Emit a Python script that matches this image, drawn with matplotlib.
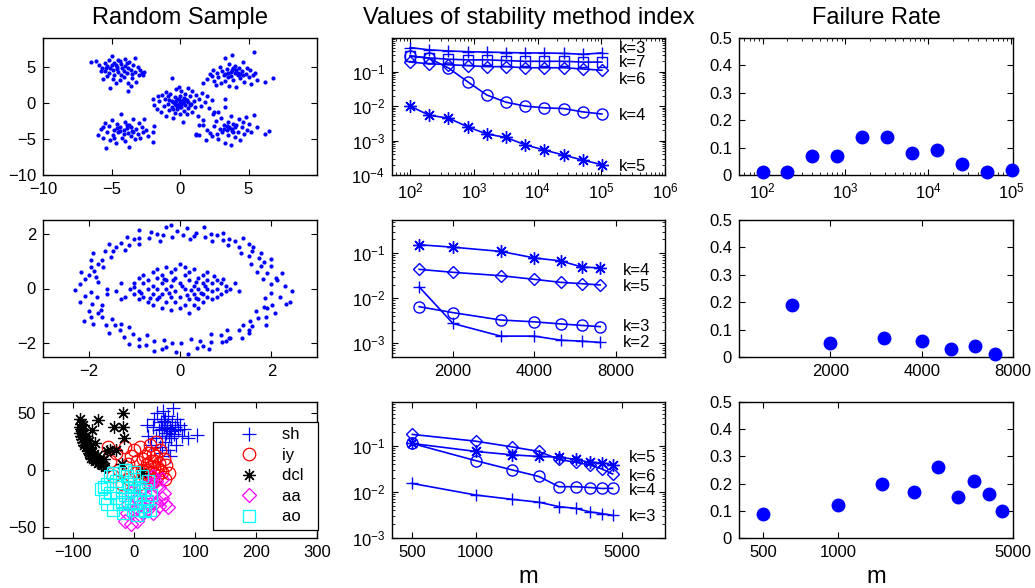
import numpy as np
import matplotlib
matplotlib.use('Agg')
import matplotlib.pyplot as plt
from matplotlib.ticker import FixedLocator, FixedFormatter, NullLocator

plt.rcParams['font.family'] = ['Liberation Sans', 'DejaVu Sans']
plt.rcParams['mathtext.fontset'] = 'custom'
plt.rcParams['mathtext.rm'] = 'Liberation Sans'
plt.rcParams['mathtext.default'] = 'regular'

# --- dados: coluna 1, amostras ---
blobs_pts = [
    # cluster superior esquerdo
    (-6.5, 5.7), (-6.1, 5.8), (-5.9, 5.2), (-5.8, 4.4), (-5.6, 3.3), (-5.5, 5.6), (-5.4, 4.9), (-5.3, 3.7),
    (-5.2, 5.9), (-5.2, 4.2), (-5.1, 2.1), (-5.0, 5.3), (-5.0, 6.5), (-4.9, 4.6), (-4.8, 5.5), (-4.8, 3.9),
    (-4.7, 2.8), (-4.6, 5.0), (-4.5, 6.0), (-4.5, 4.3), (-4.4, 3.2), (-4.3, 5.4), (-4.2, 4.8), (-4.1, 3.6),
    (-4.0, 6.1), (-4.0, 5.1), (-3.9, 4.1), (-3.8, 1.6), (-3.8, 2.7), (-3.7, 5.7), (-3.6, 4.6), (-3.5, 3.5),
    (-3.4, 5.2), (-3.3, 6.2), (-3.3, 4.3), (-3.2, 2.9), (-3.1, 5.0), (-3.0, 3.9), (-2.9, 4.5), (-2.8, 4.1),
    (-2.7, 3.8), (-2.6, 4.3), (-4.6, 4.7), (-5.3, 5.1), (-4.1, 4.4), (-3.6, 2.3), (-5.7, 4.9), (-4.9, 3.3),
    (-3.9, 5.6), (-4.4, 5.8), (-5.1, 4.8), (-4.7, 5.3), (-3.8, 4.9), (-4.3, 3.9), (-5.5, 4.4), (-3.5, 4.0),
    # cluster superior direito
    (1.7, 2.7), (2.0, 3.3), (2.2, 4.0), (2.4, 4.6), (2.5, 3.0), (2.6, 2.5), (2.7, 4.2), (2.8, 3.6),
    (2.9, 5.0), (3.0, 2.8), (3.1, 4.4), (3.2, 3.9), (3.3, 6.2), (3.3, 3.1), (3.4, 4.7), (3.5, 4.1),
    (3.6, 2.4), (3.6, 5.4), (3.7, 3.7), (3.8, 4.5), (3.8, 6.7), (3.9, 3.2), (4.0, 4.2), (4.0, 5.1),
    (4.1, 2.2), (4.2, 3.8), (4.3, 4.9), (4.4, 3.4), (4.5, 4.4), (4.6, 5.7), (4.7, 2.9), (4.8, 4.0),
    (4.9, 4.8), (5.0, 3.6), (5.1, 4.5), (5.2, 2.6), (5.3, 3.9), (5.4, 7.1), (5.5, 4.1), (5.6, 3.2),
    (6.2, 2.9), (6.8, 3.5), (4.2, 4.1), (3.5, 3.6), (4.6, 3.9), (3.9, 4.8), (2.3, 3.7), (3.7, 4.3),
    (4.1, 4.6), (3.3, 4.0), (4.4, 4.0),
    # cluster central
    (-2.0, 0.5), (-1.9, -0.3), (-1.7, -0.8), (-1.6, 0.9), (-1.5, 0.2), (-1.4, -1.2), (-1.3, 1.1), (-1.2, -0.4),
    (-1.1, 0.6), (-1.0, -1.8), (-1.0, 1.5), (-0.9, -0.2), (-0.8, 0.4), (-0.8, -1.0), (-0.7, 1.3), (-0.6, -0.6),
    (-0.6, 3.5), (-0.5, 0.1), (-0.5, -2.1), (-0.4, 0.8), (-0.4, -1.4), (-0.3, 1.9), (-0.3, -0.3), (-0.2, 0.5),
    (-0.2, -0.8), (-0.1, 2.2), (-0.1, -0.1), (0.0, 1.0), (0.0, -1.6), (0.0, 0.3), (0.1, -0.5), (0.1, 1.6),
    (0.2, 0.0), (0.2, -2.7), (0.3, 0.7), (0.3, -1.1), (0.4, 1.3), (0.4, -0.3), (0.5, 0.4), (0.5, -1.5),
    (0.6, 2.0), (0.6, -0.7), (0.7, 0.9), (0.8, -0.2), (0.9, 1.6), (0.9, -1.2), (1.0, 0.3), (1.1, -0.6),
    (1.2, 1.1), (1.3, -1.8), (1.4, 0.5), (1.5, -0.4), (1.6, 1.4), (1.7, -2.4), (1.8, 0.1), (2.0, 1.0),
    (2.1, -0.7), (2.3, 0.4), (2.5, -1.3), (3.3, 0.6), (2.8, -1.2), (-0.3, 0.2), (0.3, 0.1), (-0.1, 0.6),
    (0.1, -0.2), (1.4, -3.0), (2.2, -4.2), (1.2, -4.3), (-0.9, 0.9), (0.7, -0.3), (-0.5, -0.9), (0.2, 0.4),
    (-0.2, -0.4), (0.4, 0.5), (-0.6, 0.3), (0.0, -0.6), (0.6, 0.1), (-0.4, -0.1),
    # cluster inferior esquerdo
    (-6.0, -4.5), (-5.8, -3.6), (-5.6, -4.9), (-5.5, -2.8), (-5.4, -6.3), (-5.3, -4.0), (-5.2, -3.2), (-5.1, -5.2),
    (-5.0, -2.4), (-4.9, -4.4), (-4.8, -3.7), (-4.7, -5.6), (-4.6, -2.9), (-4.5, -4.1), (-4.4, -3.3), (-4.3, -1.5),
    (-4.2, -4.8), (-4.1, -3.8), (-4.0, -2.6), (-4.0, -5.3), (-3.9, -3.5), (-3.8, -4.2), (-3.7, -3.0), (-3.7, -6.1),
    (-3.6, -4.6), (-3.5, -3.9), (-3.4, -2.2), (-3.3, -5.0), (-3.2, -3.6), (-3.1, -4.3), (-3.0, -2.8), (-2.9, -4.9),
    (-2.8, -3.4), (-2.7, -4.0), (-2.6, -2.2), (-2.5, -3.7), (-2.3, -4.6), (-2.0, -4.1), (-2.0, -5.4), (-1.9, -3.2),
    (-4.4, -3.9), (-3.9, -3.1), (-3.4, -4.1), (-4.8, -4.8), (-5.6, -3.4), (-4.1, -4.3), (-3.6, -3.4),
    (-4.6, -3.5),
    # cluster inferior direito
    (1.2, -4.5), (1.4, -4.4), (1.7, -3.0), (1.9, -5.1), (2.0, -3.7), (2.3, -4.6), (2.4, -1.6), (2.5, -3.2),
    (2.6, -2.5), (2.7, -4.3), (2.8, -5.0), (2.9, -3.6), (3.0, -2.1), (3.1, -4.1), (3.2, -3.0), (3.3, -0.5),
    (3.3, -5.5), (3.4, -3.8), (3.5, -2.6), (3.5, -4.4), (3.6, -3.3), (3.7, -1.8), (3.7, -5.8), (3.8, -3.6),
    (3.9, -2.9), (4.0, -4.7), (4.1, -3.1), (4.2, -4.0), (4.3, -2.3), (4.4, -5.2), (4.5, -3.4), (4.6, -2.7),
    (4.7, -4.3), (4.8, -1.9), (4.9, -3.8), (5.0, -2.9), (5.2, -4.0), (5.4, -1.7), (5.6, -3.3), (6.2, -4.3),
    (6.5, -3.9), (3.6, -3.5), (3.2, -3.6), (4.0, -3.3), (3.9, -4.0), (3.4, -3.2), (3.8, -3.9),
]

ring_pts = [
    (2.30, 0.08), (1.99, 0.17), (2.13, 0.30), (1.82, 0.35), (2.23, 0.56), (1.91, 0.58), (1.69, 0.62), (1.99, 0.81),
    (1.77, 0.82), (1.99, 1.06), (1.56, 0.90), (1.72, 1.12), (1.78, 1.29), (1.50, 1.17), (1.58, 1.38), (1.33, 1.29),
    (1.50, 1.61), (1.29, 1.53), (1.38, 1.84), (1.06, 1.58), (1.08, 1.80), (0.94, 1.77), (0.95, 2.04), (0.69, 1.72),
    (0.68, 1.99), (0.54, 1.87), (0.52, 2.24), (0.36, 2.02), (0.22, 1.79), (0.15, 2.19), (0.07, 1.95),
    (1.85, 0.95), (1.60, 1.50), (1.20, 1.75), (0.30, 1.90), (2.10, 0.40), (0.80, 1.95),
    (-0.07, 2.10), (-0.17, 1.89), (-0.31, 2.23), (-0.38, 1.96), (-0.44, 1.75), (-0.63, 2.06), (-0.67, 1.83),
    (-0.90, 2.12), (-0.90, 1.84), (-0.90, 1.62), (-1.17, 1.87), (-1.12, 1.60), (-1.29, 1.65), (-1.21, 1.40),
    (-1.56, 1.62), (-1.46, 1.36), (-1.65, 1.38), (-1.52, 1.14), (-1.91, 1.29), (-1.71, 1.03), (-1.94, 1.03),
    (-1.68, 0.78), (-1.95, 0.79), (-1.89, 0.65), (-2.16, 0.62), (-1.85, 0.43), (-2.07, 0.36), (-1.79, 0.22),
    (-2.19, 0.15), (-1.40, 1.50), (-0.50, 2.00), (-1.80, 0.90), (-1.00, 1.80), (-2.00, 0.50), (-0.20, 2.30),
    (-2.30, -0.04), (-1.95, -0.14), (-2.08, -0.26), (-1.82, -0.32), (-2.19, -0.51), (-1.92, -0.55), (-1.70, -0.59),
    (-1.99, -0.81), (-1.72, -0.80), (-1.94, -1.03), (-1.71, -1.03), (-1.91, -1.29), (-1.48, -1.11), (-1.61, -1.35),
    (-1.43, -1.33), (-1.56, -1.62), (-1.31, -1.51), (-1.11, -1.42), (-1.23, -1.76), (-1.03, -1.65), (-1.12, -2.01),
    (-0.90, -1.84), (-0.72, -1.70), (-0.75, -2.07), (-0.58, -1.91), (-0.57, -2.28), (-0.36, -1.87), (-0.30, -2.13),
    (-0.17, -1.99), (-0.08, -2.30), (-1.80, -0.90), (-1.30, -1.30), (-0.40, -2.20), (-1.60, -0.20), (-0.90, -2.10),
    (-2.10, -1.20),
    (0.03, -2.00), (0.17, -2.39), (0.23, -1.84), (0.38, -2.17), (0.44, -1.90), (0.63, -2.21), (0.67, -1.94),
    (0.67, -1.67), (0.91, -1.95), (0.89, -1.68), (1.08, -1.80), (1.03, -1.53), (1.35, -1.80), (1.29, -1.53),
    (1.50, -1.61), (1.37, -1.32), (1.58, -1.38), (1.54, -1.20), (1.88, -1.32), (1.70, -1.06), (1.88, -1.04),
    (1.66, -0.81), (2.07, -0.88), (1.83, -0.67), (2.01, -0.61), (2.33, -0.58), (1.87, -0.36), (2.18, -0.31),
    (1.99, -0.17), (2.45, -0.09), (1.00, -1.90), (1.10, -1.80), (1.50, -1.50), (0.50, -2.10), (1.90, -0.70),
    (2.40, -0.50),
]

core_pts = [
    (-1.1, 0.0), (-1.0, 0.2), (-1.0, -0.2), (-0.9, 0.4), (-0.9, -0.1), (-0.9, -0.4), (-0.8, 0.2), (-0.8, -0.3),
    (-0.8, 0.5), (-0.7, 0.0), (-0.7, -0.5), (-0.7, 0.3), (-0.6, 0.6), (-0.6, -0.2), (-0.6, 0.1), (-0.6, -0.6),
    (-0.5, 0.4), (-0.5, -0.4), (-0.5, 0.0), (-0.5, 0.7), (-0.4, -0.7), (-0.4, 0.2), (-0.4, -0.2), (-0.4, 0.5),
    (-0.3, -0.5), (-0.3, 0.0), (-0.3, 0.8), (-0.3, 0.3), (-0.2, -0.3), (-0.2, 0.6), (-0.2, -0.8), (-0.2, 0.1),
    (-0.1, 0.4), (-0.1, -0.5), (-0.1, 0.7), (-0.1, -0.1), (0.0, 0.9), (0.0, -0.7), (0.0, 0.2), (0.0, -0.3),
    (0.1, 0.5), (0.1, -0.6), (0.1, 0.0), (0.1, 0.8), (0.2, -0.4), (0.2, 0.3), (0.2, -0.9), (0.2, 0.6),
    (0.3, -0.2), (0.3, 0.1), (0.3, -0.6), (0.3, 0.7), (0.4, 0.4), (0.4, -0.4), (0.4, 0.0), (0.4, -0.7),
    (0.5, 0.5), (0.5, -0.2), (0.5, 0.2), (0.5, -0.5), (0.6, 0.3), (0.6, -0.3), (0.6, 0.0), (0.6, 0.6),
    (0.7, -0.4), (0.7, 0.2), (0.7, -0.1), (0.8, 0.3), (0.8, -0.3), (0.8, 0.0), (0.9, 0.2), (0.9, -0.2),
    (1.0, 0.1), (1.0, -0.1), (1.1, 0.0), (-1.4, -0.1), (-1.6, 0.0), (-1.3, 0.2), (-1.2, -0.3), (1.3, -0.1),
    (1.2, 0.2), (0.35, 0.25), (-0.25, -0.15), (0.15, -0.25), (-0.35, 0.35), (0.45, -0.15), (-0.15, 0.3),
    (0.05, 0.1), (-0.45, -0.3), (0.55, 0.1), (0.25, -0.05), (-1.0, 0.05), (-1.3, -0.4), (0.75, 0.45),
    (-0.65, -0.35), (0.35, -0.35), (0.95, 0.35), (-0.85, -0.15),
]

# dados fonéticos (coluna 1, linha 3)
phon_labels = ['sh', 'iy', 'dcl', 'aa', 'ao']
sh_pts = [(20, 40), (22, 30), (28, 22), (30, 38), (33, 45), (35, 28), (38, 50), (40, 35), (42, 20), (43, 42),
          (45, 30), (47, 52), (48, 38), (50, 25), (51, 45), (52, 33), (54, 40), (55, 18), (56, 48), (58, 36),
          (60, 28), (62, 42), (63, 55), (65, 32), (67, 38), (68, 22), (70, 45), (72, 35), (75, 40), (78, 30),
          (82, 36), (88, 28), (103, 31), (45, 15), (58, 12), (48, 43), (53, 37), (60, 34), (57, 30), (46, 36)]
iy_pts = [(-43, 20), (-40, 8), (-35, -5), (-30, 15), (-25, 0), (-20, -12), (-15, 20), (-10, 5), (-8, -8),
          (-5, 12), (0, 18), (2, -2), (5, 8), (8, -12), (10, 20), (12, 0), (15, 10), (18, -6), (20, 5), (22, 15),
          (24, -3), (26, 22), (28, 8), (30, -10), (32, 2), (35, 12), (38, -5), (40, 6), (42, 18), (45, -2),
          (48, 10), (50, -8), (52, 4), (57, -3), (35, 25), (20, 0), (25, 3), (30, -2), (15, -2), (38, 3),
          (33, 8), (27, -6), (42, 0), (18, 12), (30, 14)]
dcl_pts = [(-90, 45), (-90, 38), (-89, 33), (-88, 36), (-87, 30), (-86, 27), (-85, 32), (-84, 25), (-83, 29),
           (-82, 22), (-80, 26), (-79, 20), (-78, 23), (-76, 18), (-75, 15), (-73, 20), (-72, 13), (-70, 16),
           (-68, 10), (-66, 14), (-64, 8), (-62, 12), (-60, 6), (-58, 9), (-55, 5), (-52, 4), (-50, 10),
           (-48, 3), (-70, 35), (-65, 24), (-60, 44), (-45, 17), (-40, 18), (-30, 18), (-33, 38), (-18, 50),
           (-18, 38), (-17, 28), (-20, 5), (12, -3), (-85, 40), (-80, 30), (-75, 26), (-88, 41), (-86, 35),
           (-83, 33), (-81, 27), (-77, 21), (-74, 17), (-71, 11), (-67, 12), (-63, 10), (-57, 7)]
aa_pts = [(-15, -45), (-5, -48), (5, -45), (10, -40), (15, -38), (20, -35), (25, -30), (30, -38), (35, -28),
          (40, -32), (45, -25), (50, -30), (55, -33), (40, -15), (35, -10), (48, -20), (28, -22), (20, -25),
          (15, -15), (10, -30), (0, -35), (-10, -30), (-5, -20), (5, -25), (25, -12), (30, -5), (45, -8),
          (-12, -38)]
ao_pts = [(-55, -17), (-50, -15), (-48, -25), (-45, -30), (-40, -5), (-40, -20), (-35, -35), (-30, -10),
          (-30, -25), (-25, -3), (-25, -30), (-20, -15), (-18, -38), (-15, -22), (-12, -5), (-10, -30), (-8, -12),
          (-5, -25), (-2, -35), (0, -8), (0, -18), (2, -28), (5, -40), (8, -15), (10, -22), (12, -5), (15, -32),
          (18, -18), (20, -27), (22, -10), (25, -35), (28, -22), (-35, -3), (-20, -28), (0, -2), (-45, -12),
          (-5, -15), (10, -35), (-15, 0), (18, -36)]

# --- coluna 2: índice de estabilidade ---
m_top = [100, 200, 400, 800, 1600, 3200, 6400, 12800, 25600, 51200, 102400]
top_k = ['k=3', 'k=7', 'k=6', 'k=4', 'k=5']
top_vals = [
    [0.50, 0.43, 0.40, 0.38, 0.37, 0.36, 0.35, 0.35, 0.34, 0.32, 0.35],
    [0.28, 0.25, 0.23, 0.22, 0.22, 0.21, 0.20, 0.20, 0.20, 0.19, 0.19],
    [0.19, 0.17, 0.16, 0.15, 0.14, 0.14, 0.13, 0.13, 0.13, 0.12, 0.11],
    [0.29, 0.245, 0.128, 0.051, 0.021, 0.013, 0.010, 0.0089, 0.0085, 0.0068, 0.0059],
    [0.010, 0.0054, 0.0045, 0.0025, 0.00155, 0.00123, 0.00075, 0.00053, 0.00038, 0.00027, 0.00020],
]
top_lbl_y = [0.46, 0.185, 0.058, 0.0055, 0.00018]

m_mid = [1500, 2000, 3000, 4000, 5000, 6000, 7000]
mid_k = ['k=4', 'k=5', 'k=3', 'k=2']
mid_vals = [
    [0.153, 0.135, 0.109, 0.078, 0.067, 0.049, 0.047],
    [0.0436, 0.0375, 0.0316, 0.0262, 0.0225, 0.021, 0.0197],
    [0.0065, 0.0048, 0.0033, 0.0030, 0.0027, 0.0025, 0.00235],
    [0.0178, 0.00276, 0.00145, 0.00145, 0.00118, 0.00112, 0.00105],
]
mid_lbl_y = [0.042, 0.0186, 0.00234, 0.00105]

m_bot = [500, 1000, 1500, 2000, 2500, 3000, 3500, 4000, 4500]
bot_k = ['k=5', 'k=6', 'k=4', 'k=3']
bot_vals = [
    [0.113, 0.076, 0.064, 0.059, 0.057, 0.051, 0.044, 0.043, 0.0387],
    [0.178, 0.127, 0.095, 0.076, 0.051, 0.044, 0.0387, 0.0316, 0.0246],
    [0.113, 0.048, 0.030, 0.0218, 0.013, 0.013, 0.0125, 0.0119, 0.012],
    [0.0153, 0.0086, 0.0069, 0.0060, 0.0048, 0.0044, 0.0037, 0.0034, 0.0031],
]
bot_lbl_y = [0.055, 0.0215, 0.0108, 0.0030]

# --- coluna 3: taxa de falha ---
fail_top = [0.01, 0.01, 0.07, 0.07, 0.14, 0.14, 0.08, 0.09, 0.04, 0.01, 0.02]
fail_mid = [0.19, 0.05, 0.07, 0.06, 0.03, 0.04, 0.01]
fail_bot = [0.09, 0.12, 0.20, 0.17, 0.26, 0.15, 0.21, 0.16, 0.10]

BLUE = (0, 0, 1)
ASTER = (8, 2, 0)  # asterisco estilo matlab
W, H = 1035, 588
fig = plt.figure(figsize=(W / 100, H / 100), dpi=100)


def px_axes(x0, y0, x1, y1):
    return fig.add_axes([x0 / W, 1 - y1 / H, (x1 - x0) / W, (y1 - y0) / H])


def style(ax):
    ax.tick_params(which='both', direction='in', top=True, right=True, labelsize=12)
    ax.tick_params(which='major', length=4, width=0.8, pad=5)
    ax.tick_params(which='minor', length=2, width=0.6)
    for s in ax.spines.values():
        s.set_linewidth(1.0)


cols = [(43, 317), (392, 665), (739, 1013)]
rows = [(38, 175), (220, 357), (402, 538)]
axs = [[px_axes(c[0], r[0], c[1], r[1]) for c in cols] for r in rows]
for row in axs:
    for ax in row:
        style(ax)

# coluna 1
ax = axs[0][0]
p = np.array(blobs_pts)
ax.plot(p[:, 0], p[:, 1], '.', color=BLUE, ms=4)
ax.set_xlim(-10, 10)
ax.set_ylim(-10, 9)
ax.set_xticks([-10, -5, 0, 5])
ax.set_yticks([-10, -5, 0, 5])
ax.set_title('Random Sample', fontsize=17, pad=10)

ax = axs[1][0]
p = np.array(ring_pts + core_pts)
ax.plot(p[:, 0], p[:, 1], '.', color=BLUE, ms=4)
ax.set_xlim(-3, 3)
ax.set_ylim(-2.5, 2.5)
ax.set_xticks([-2, 0, 2])
ax.set_yticks([-2, 0, 2])

ax = axs[2][0]
phon_sets = [sh_pts, iy_pts, dcl_pts, aa_pts, ao_pts]
phon_style = [('+', (0, 0, 1), 10), ('o', (1, 0, 0), 9), (ASTER, (0, 0, 0), 9),
              ('D', (1, 0, 1), 7), ('s', (0, 1, 1), 8)]
for pts, (mk, c, ms), lab in zip(phon_sets, phon_style, phon_labels):
    p = np.array(pts)
    ax.plot(p[:, 0], p[:, 1], marker=mk, color=c, mfc='none', ms=ms, mew=0.9, label=lab + '  ',
            linestyle='none')
ax.set_xlim(-150, 300)
ax.set_ylim(-60, 60)
ax.set_xticks([-100, 0, 100, 200, 300])
ax.set_yticks([-50, 0, 50])
leg = ax.legend(loc='upper right', bbox_to_anchor=(1.004, 0.853), fontsize=12, frameon=True, fancybox=False,
                edgecolor='k', framealpha=1, handlelength=3.7, handletextpad=0.1, labelspacing=0.33,
                borderpad=0.33, borderaxespad=0.0)
leg.get_frame().set_linewidth(0.9)

# coluna 2
line_mk = {'+': 9, 's': 7, 'D': 6.5, 'o': 8, ASTER: 9}


def stab(ax, m, vals, marks, labels, lbl_x, lbl_y):
    for v, mk in zip(vals, marks):
        ax.plot(m, v, '-', marker=mk, color=BLUE, mfc='none', ms=line_mk[mk], lw=1.2, mew=1.0, clip_on=False)
    for lab, y in zip(labels, lbl_y):
        ax.text(lbl_x, y, lab, fontsize=12, va='center', ha='left')
    ax.set_xscale('log')
    ax.set_yscale('log')


ax = axs[0][1]
stab(ax, m_top, top_vals, ['+', 's', 'D', 'o', ASTER], top_k, 1.9e5, top_lbl_y)
ax.set_xlim(52, 1e6)
ax.set_ylim(1e-4, 0.95)
ax.yaxis.set_major_locator(FixedLocator([1e-4, 1e-3, 1e-2, 1e-1]))
ax.set_title('Values of stability method index', fontsize=17, pad=10)

ax = axs[1][1]
stab(ax, m_mid, mid_vals, [ASTER, 'D', 'o', '+'], mid_k, 8500, mid_lbl_y)
ax.set_xlim(1190, 12150)
ax.set_ylim(5e-4, 0.54)
ax.xaxis.set_major_locator(FixedLocator([2000, 4000, 8000]))
ax.xaxis.set_major_formatter(FixedFormatter(['2000', '4000', '8000']))
ax.xaxis.set_minor_locator(NullLocator())
ax.yaxis.set_major_locator(FixedLocator([1e-3, 1e-2, 1e-1]))

ax = axs[2][1]
stab(ax, m_bot, bot_vals, [ASTER, 'D', 'o', '+'], bot_k, 5400, bot_lbl_y)
ax.set_xlim(400, 8000)
ax.set_ylim(1e-3, 0.9)
ax.xaxis.set_major_locator(FixedLocator([500, 1000, 5000]))
ax.xaxis.set_major_formatter(FixedFormatter(['500', '1000', '5000']))
ax.xaxis.set_minor_locator(NullLocator())
ax.yaxis.set_major_locator(FixedLocator([1e-3, 1e-2, 1e-1]))


# coluna 3
def fail(ax, m, vals):
    ax.plot(m, vals, 'o', color=BLUE, ms=9, clip_on=False, zorder=3)
    ax.set_xscale('log')
    ax.set_ylim(0, 0.5)
    ax.set_yticks([0, 0.1, 0.2, 0.3, 0.4, 0.5])
    ax.set_yticklabels(['0', '0.1', '0.2', '0.3', '0.4', '0.5'])


ax = axs[0][2]
fail(ax, m_top, fail_top)
ax.set_xlim(52, 1.06e5)
ax.set_title('Failure Rate', fontsize=17, pad=10)

ax = axs[1][2]
fail(ax, m_mid, fail_mid)
ax.set_xlim(1000, 8000)
ax.xaxis.set_major_locator(FixedLocator([2000, 4000, 8000]))
ax.xaxis.set_major_formatter(FixedFormatter(['2000', '4000', '8000']))
ax.xaxis.set_minor_locator(NullLocator())

ax = axs[2][2]
fail(ax, m_bot, fail_bot)
ax.set_xlim(400, 5000)
ax.xaxis.set_major_locator(FixedLocator([500, 1000, 5000]))
ax.xaxis.set_major_formatter(FixedFormatter(['500', '1000', '5000']))
ax.xaxis.set_minor_locator(NullLocator())

for c in cols[1:]:
    fig.text((c[0] + c[1]) / 2 / W, 5 / H, 'm', fontsize=17, ha='center', va='baseline')

fig.savefig('out.png', dpi=100)
